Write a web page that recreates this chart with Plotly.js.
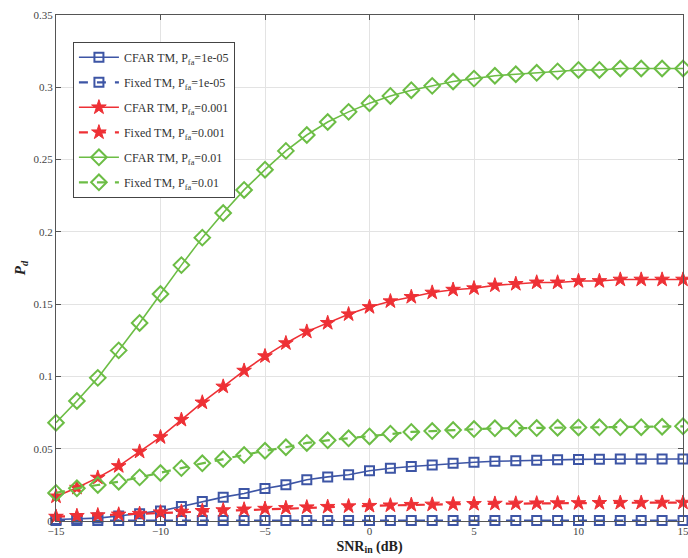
<!DOCTYPE html>
<html>
<head>
<meta charset="utf-8">
<script src="https://cdn.plot.ly/plotly-3.0.1.min.js"></script>
<style>html,body{margin:0;padding:0;background:#fff;}#chart{width:688px;height:558px;}</style>
</head>
<body>
<div id="chart"></div>
<script>
const snr = [-15,-14,-13,-12,-11,-10,-9,-8,-7,-6,-5,-4,-3,-2,-1,0,1,2,3,4,5,6,7,8,9,10,11,12,13,14,15];

const cfar_1e5 = [0.001,0.0015,0.002,0.0035,0.005,0.007,0.010,0.0135,0.0165,0.019,0.0225,0.025,0.0285,0.0305,0.032,0.0347,0.0365,0.0377,0.0388,0.040,0.0406,0.0413,0.0417,0.0421,0.0423,0.0426,0.0427,0.0428,0.0429,0.0429,0.0429];
const fixed_1e5 = [0.0003,0.0003,0.0003,0.0003,0.0003,0.0003,0.0003,0.0003,0.0003,0.0003,0.0003,0.0003,0.0003,0.0003,0.0003,0.0003,0.0003,0.0003,0.0003,0.0003,0.0003,0.0003,0.0003,0.0003,0.0003,0.0003,0.0003,0.0003,0.0003,0.0003,0.0003];
const cfar_1e3 = [0.017,0.023,0.030,0.038,0.048,0.058,0.070,0.082,0.093,0.104,0.114,0.123,0.131,0.137,0.143,0.148,0.152,0.155,0.158,0.160,0.161,0.163,0.164,0.165,0.165,0.166,0.166,0.167,0.167,0.167,0.167];
const fixed_1e3 = [0.003,0.0035,0.004,0.0045,0.005,0.006,0.0065,0.007,0.0075,0.008,0.0085,0.009,0.0095,0.0098,0.0102,0.0105,0.0108,0.0112,0.0114,0.0116,0.0118,0.012,0.0121,0.0122,0.0123,0.0124,0.0125,0.0126,0.0126,0.0127,0.0127];
const cfar_1e2 = [0.068,0.083,0.099,0.118,0.137,0.157,0.177,0.196,0.213,0.229,0.243,0.256,0.267,0.276,0.283,0.289,0.294,0.298,0.301,0.304,0.306,0.308,0.309,0.310,0.311,0.312,0.312,0.313,0.313,0.313,0.313];
const fixed_1e2 = [0.0194,0.0226,0.0249,0.0272,0.0302,0.0332,0.0366,0.0399,0.0429,0.0456,0.0486,0.051,0.054,0.0558,0.0572,0.0585,0.0604,0.0616,0.0622,0.0629,0.0636,0.0641,0.0642,0.0643,0.0645,0.0647,0.0648,0.0648,0.0649,0.0652,0.0655];

const names = [
  'CFAR TM, P<sub>fa</sub>=1e-05',
  'Fixed TM, P<sub>fa</sub>=1e-05',
  'CFAR TM, P<sub>fa</sub>=0.001',
  'Fixed TM, P<sub>fa</sub>=0.001',
  'CFAR TM, P<sub>fa</sub>=0.01',
  'Fixed TM, P<sub>fa</sub>=0.01'
];

const BLUE = '#3d55a5', RED = '#ee3035', GREEN = '#6cbd45';

function tr(y, name, color, dash, symbol, size, grp) {
  return {
    x: snr, y: y, name: name, type: 'scatter', mode: 'lines+markers',
    legendgroup: grp, cliponaxis: false,
    line: {color: color, width: dash === 'solid' ? 1.6 : 2.2, dash: dash},
    marker: {symbol: symbol, size: size, color: color, line: {color: color, width: symbol === 'star' ? 1 : 2}}
  };
}

const data = [
  tr(cfar_1e5, names[0], BLUE, 'solid', 'square-open', 9, 'a'),
  tr(fixed_1e5, names[1], BLUE, 'dash', 'square-open', 9, 'b'),
  tr(cfar_1e3, names[2], RED, 'solid', 'star', 11, 'c'),
  tr(fixed_1e3, names[3], RED, 'dash', 'star', 11, 'd'),
  tr(cfar_1e2, names[4], GREEN, 'solid', 'diamond-open', 12, 'e'),
  tr(fixed_1e2, names[5], GREEN, 'dash', 'diamond-open', 12, 'f')
];

const layout = {
  width: 688, height: 558,
  margin: {l: 56, r: 5, t: 15, b: 37},
  paper_bgcolor: '#fff', plot_bgcolor: '#fff',
  font: {family: 'Liberation Serif, serif', size: 11, color: '#444'},
  showlegend: true,
  legend: {
    x: 0.027, y: 0.947, xanchor: 'left', yanchor: 'top',
    bgcolor: '#fff', bordercolor: '#444', borderwidth: 1,
    font: {family: 'Liberation Serif, serif', size: 12, color: '#333'},
    traceorder: 'grouped', tracegroupgap: 6, itemwidth: 40
  },
  xaxis: {
    range: [-15, 15], dtick: 5, tick0: -15,
    showgrid: true, gridcolor: '#e3e3e3', gridwidth: 1,
    zeroline: false, showline: true, linecolor: '#555', linewidth: 1, mirror: 'ticks',
    ticks: 'inside', ticklen: 5, tickcolor: '#555', ticklabeloverflow: 'allow',
    tickfont: {family: 'Liberation Serif, serif', size: 11, color: '#444'},
    title: {text: '<b>SNR<sub>in</sub> (dB)</b>', standoff: 4, font: {family: 'Liberation Serif, serif', size: 14, color: '#222'}}
  },
  yaxis: {
    range: [0, 0.35], dtick: 0.05, tick0: 0,
    showgrid: true, gridcolor: '#e3e3e3', gridwidth: 1,
    zeroline: false, showline: true, linecolor: '#555', linewidth: 1, mirror: 'ticks',
    ticks: 'inside', ticklen: 5, tickcolor: '#555',
    tickfont: {family: 'Liberation Serif, serif', size: 11, color: '#444'},
    title: {text: '<b><i>P<sub>d</sub></i></b>', standoff: 4, font: {family: 'Liberation Serif, serif', size: 15, color: '#222'}}
  }
};

Plotly.newPlot('chart', data, layout, {displayModeBar: false, staticPlot: true});
</script>
</body>
</html>
